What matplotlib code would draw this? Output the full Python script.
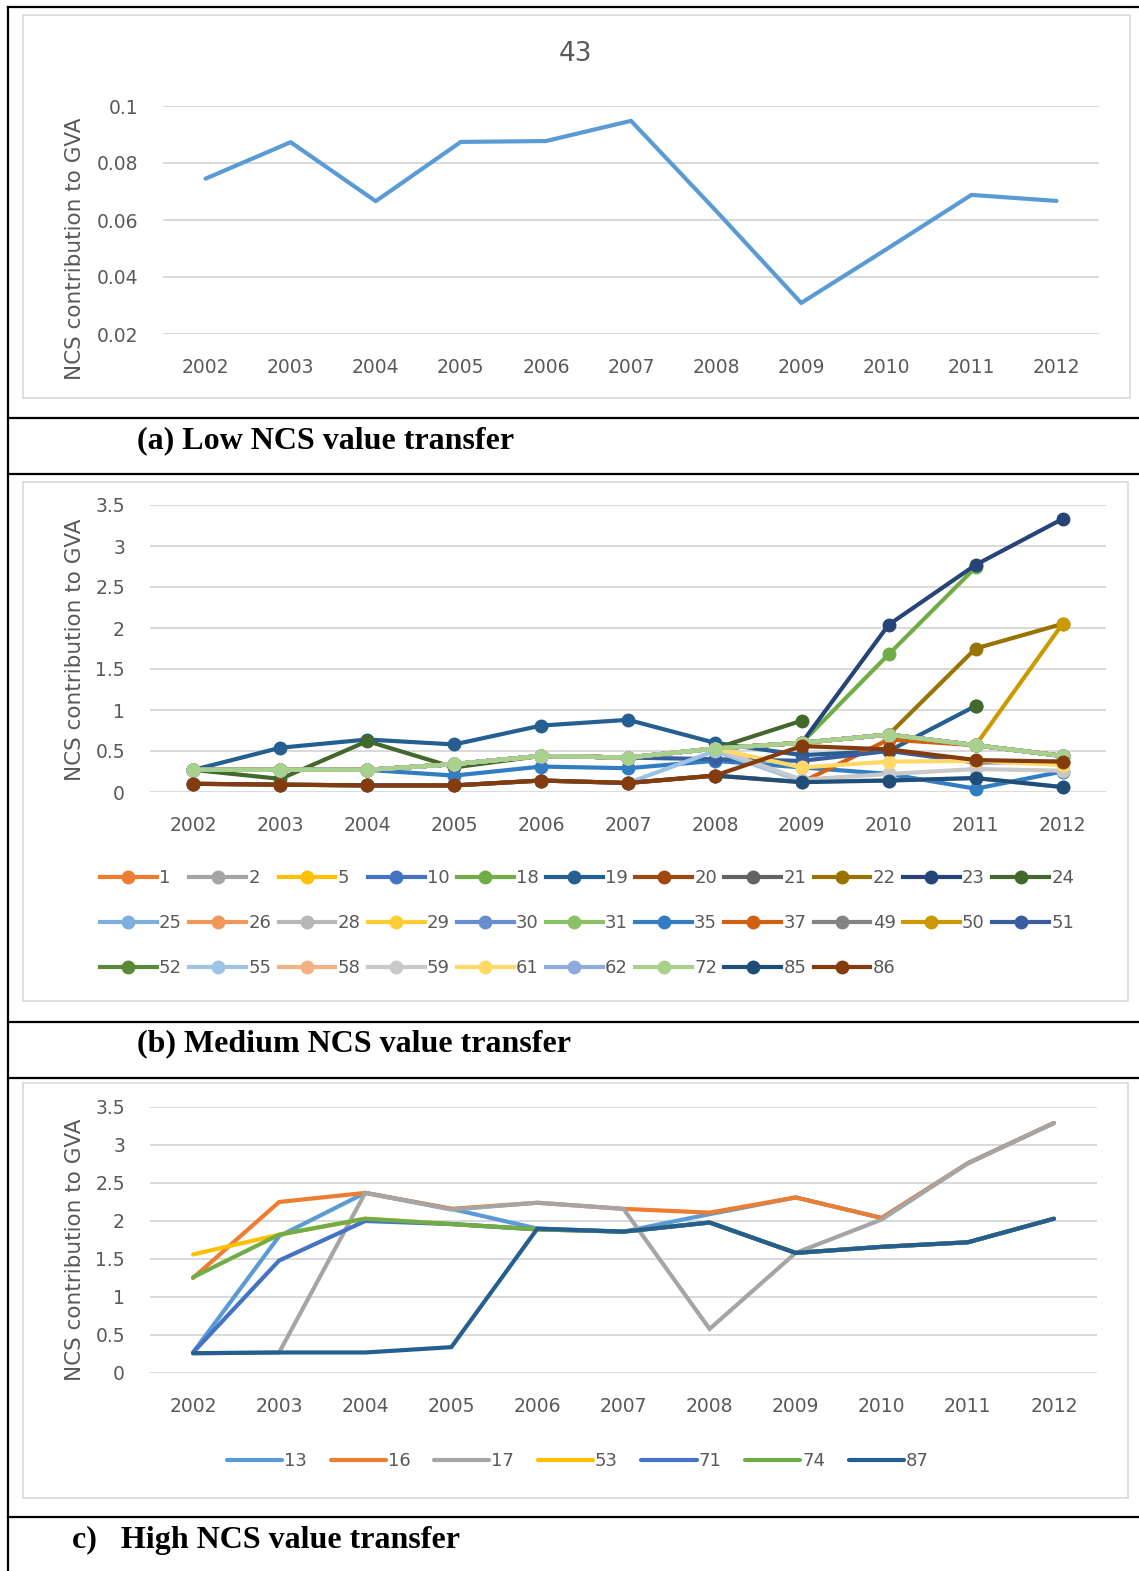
import matplotlib
matplotlib.use("Agg")
import matplotlib.pyplot as plt
import numpy as np
from matplotlib.lines import Line2D
from matplotlib.patches import Rectangle

W, H = 1139, 1571
nan = np.nan

years = [str(y) for y in range(2002, 2013)]

# (a) low NCS value transfer
low_labels = ["43"]
low_43 = [0.0745, 0.0873, 0.0666, 0.0874, 0.0877, 0.0948, 0.0632, 0.0309, 0.0497, 0.0688, 0.0667]
low_yticks = [0.02, 0.04, 0.06, 0.08, 0.1]
low_yticklabels = ["0.02", "0.04", "0.06", "0.08", "0.1"]

# (b) medium NCS value transfer
med_labels = ["1", "2", "5", "10", "18", "19", "20", "21", "22", "23", "24",
              "25", "26", "28", "29", "30", "31", "35", "37", "49", "50", "51",
              "52", "55", "58", "59", "61", "62", "72", "85", "86"]
med_colors = ["#ED7D31", "#A5A5A5", "#FFC000", "#4472C4", "#70AD47", "#255E91",
              "#9E480E", "#636363", "#997300", "#264478", "#43682B",
              "#7CAFDD", "#F1975A", "#B7B7B7", "#FFCD33", "#698ED0", "#8CC168",
              "#327DC2", "#D26012", "#848484", "#CC9A00", "#3A5DA0",
              "#5A8A39", "#9DC3E6", "#F4B183", "#C9C9C9", "#FFD966", "#8FAADC",
              "#A9D18E", "#1F4E79", "#843C0C"]

m72 = [0.27, 0.27, 0.27, 0.34, 0.44, 0.42, 0.53, 0.60, 0.70, 0.57, 0.44]
m86 = [0.10, 0.09, 0.08, 0.08, 0.14, 0.11, 0.20, 0.56, 0.52, 0.39, 0.37]
m85 = [0.10, 0.09, 0.08, 0.08, 0.14, 0.11, 0.20, 0.12, 0.14, 0.17, 0.06]
m19 = [0.27, 0.54, 0.64, 0.58, 0.81, 0.88, 0.60, 0.45, 0.50, 1.05, nan]
m24 = [0.27, 0.16, 0.62, 0.30, 0.44, 0.42, 0.53, 0.87, nan, 1.05, nan]
m23 = [0.27, 0.27, 0.27, 0.34, 0.44, 0.42, 0.53, 0.60, 2.04, 2.77, 3.33]
m18 = [0.27, 0.27, 0.27, 0.34, 0.44, 0.42, 0.53, 0.60, 1.68, 2.74, nan]
m22 = [0.27, 0.27, 0.27, 0.34, 0.44, 0.42, 0.53, 0.60, 0.70, 1.75, 2.05]
m50 = [0.27, 0.27, 0.27, 0.34, 0.44, 0.42, 0.53, 0.60, 0.70, 0.57, 2.05]
m35 = [0.27, 0.27, 0.27, 0.20, 0.31, 0.29, 0.38, 0.30, 0.22, 0.04, 0.25]
m51 = [0.27, 0.27, 0.27, 0.34, 0.44, 0.42, 0.40, 0.38, 0.50, 0.36, 0.37]
m55 = [0.10, 0.09, 0.08, 0.08, 0.14, 0.11, 0.50, 0.13, 0.14, 0.17, 0.06]
m59 = [0.27, 0.27, 0.27, 0.34, 0.44, 0.42, 0.53, 0.15, 0.22, 0.28, 0.26]
m61 = [0.27, 0.27, 0.27, 0.34, 0.44, 0.42, 0.53, 0.30, 0.37, 0.38, 0.33]
m37 = [0.10, 0.09, 0.08, 0.08, 0.14, 0.11, 0.20, 0.12, 0.64, 0.57, 0.44]
# series that stay hidden underneath "72" in the original
m_hidden = [0.27, 0.27, 0.27, 0.34, 0.44, 0.42, 0.53, 0.60, 0.70, 0.57, 0.44]

med_values = {
    "18": m18, "19": m19, "22": m22, "23": m23, "24": m24, "35": m35,
    "37": m37, "50": m50, "51": m51, "55": m55, "59": m59, "61": m61,
    "72": m72, "85": m85, "86": m86,
}
med_yticks = [0, 0.5, 1, 1.5, 2, 2.5, 3, 3.5]
med_yticklabels = ["0", "0.5", "1", "1.5", "2", "2.5", "3", "3.5"]

# (c) high NCS value transfer
high_labels = ["13", "16", "17", "53", "71", "74", "87"]
high_colors = ["#5B9BD5", "#ED7D31", "#A5A5A5", "#FFC000", "#4472C4", "#70AD47", "#255E91"]
h13 = [0.27, 1.80, 2.37, 2.16, 1.90, 1.86, 2.09, 2.31, 2.04, 2.76, 3.29]
h16 = [1.25, 2.25, 2.37, 2.16, 2.24, 2.16, 2.11, 2.31, 2.04, 2.76, 3.29]
h17 = [0.26, 0.27, 2.37, 2.15, 2.24, 2.16, 0.58, 1.58, 2.02, 2.76, 3.29]
h53 = [1.56, 1.82, 2.03, 1.96, 1.89, 1.86, 1.98, 1.58, 1.66, 1.72, 2.03]
h71 = [0.27, 1.48, 2.00, 1.96, 1.89, 1.86, 1.98, 1.58, 1.66, 1.72, 2.03]
h74 = [1.26, 1.82, 2.03, 1.96, 1.89, 1.86, 1.98, 1.58, 1.66, 1.72, 2.03]
h87 = [0.26, 0.27, 0.27, 0.34, 1.90, 1.86, 1.98, 1.58, 1.66, 1.72, 2.03]
high_values = [h13, h16, h17, h53, h71, h74, h87]

GRID = "#D9D9D9"
TXT = "#595959"


def rect(x0, y0, x1, y1):
    return [x0 / W, 1 - y1 / H, (x1 - x0) / W, (y1 - y0) / H]


def hline(fig, y, x0=8, x1=W, lw=1.6):
    fig.add_artist(Line2D([x0 / W, x1 / W], [1 - y / H, 1 - y / H],
                          transform=fig.transFigure, color="black", lw=lw))


def style_axes(ax, yticks, yticklabels, ylim):
    ax.set_xlim(-0.5, len(years) - 0.5)
    ax.set_ylim(*ylim)
    ax.set_xticks(range(len(years)))
    ax.set_xticklabels(years)
    ax.set_yticks(yticks)
    ax.set_yticklabels(yticklabels)
    for s in ax.spines.values():
        s.set_visible(False)
    ax.tick_params(length=0, labelsize=13.5, labelcolor=TXT)
    ax.tick_params(axis="x", pad=17)
    ax.tick_params(axis="y", pad=18)
    ax.grid(axis="y", color=GRID, lw=1.4)
    ax.set_axisbelow(True)


fig = plt.figure(figsize=(W / 100, H / 100), dpi=100)

# table frame
fig.add_artist(Line2D([8 / W, 8 / W], [0, 1 - 7 / H], transform=fig.transFigure,
                      color="black", lw=1.6))
for y in [7, 418, 474, 1022, 1078, 1517]:
    hline(fig, y)

# chart boxes
for (x0, y0, x1, y1) in [(23, 15, 1130, 398), (23, 482, 1128, 1001), (23, 1083, 1128, 1498)]:
    fig.add_artist(Rectangle((x0 / W, 1 - y1 / H), (x1 - x0) / W, (y1 - y0) / H,
                             transform=fig.transFigure, fill=False, ec=GRID, lw=1.2))

cap_kw = dict(ha="left", va="center", fontsize=23, fontweight="bold",
              family="Liberation Serif")
ylab_kw = dict(rotation=90, ha="center", va="center", fontsize=15.5, color=TXT)

# ---- (a)
ax1 = fig.add_axes(rect(163, 106, 1099, 334))
style_axes(ax1, low_yticks, low_yticklabels, (0.02, 0.1))
ax1.plot(range(len(years)), low_43, color="#5B9BD5", lw=3, solid_capstyle="round")
fig.text(575 / W, 1 - 54 / H, low_labels[0], ha="center", va="center",
         fontsize=19, color=TXT)
fig.text(75 / W, 1 - 249 / H, "NCS contribution to GVA", **ylab_kw)
fig.text(137 / W, 1 - 441 / H, "(a) Low NCS value transfer", **cap_kw)

# ---- (b)
ax2 = fig.add_axes(rect(150, 505, 1106, 792))
style_axes(ax2, med_yticks, med_yticklabels, (0, 3.5))
handles = []
for lab, col in zip(med_labels, med_colors):
    vals = med_values.get(lab, m_hidden)
    ln, = ax2.plot(range(len(years)), vals, color=col, lw=3, marker="o",
                   markersize=10, markeredgewidth=0, clip_on=False, label=lab)
    handles.append(ln)
# excel legend is row-major, matplotlib fills columns first
ncol = 11
order = []
for c in range(ncol):
    for r in range(3):
        i = r * ncol + c
        if i < len(handles):
            order.append(i)
fig.legend([handles[i] for i in order], [med_labels[i] for i in order],
           loc="upper left", bbox_to_anchor=(100 / W, 1 - 869 / H), ncol=ncol,
           frameon=False, fontsize=13, handlelength=3.15, handletextpad=0.12,
           columnspacing=0.4, labelspacing=1.5, borderpad=0, borderaxespad=0,
           labelcolor=TXT)
fig.text(75 / W, 1 - 650 / H, "NCS contribution to GVA", **ylab_kw)
fig.text(137 / W, 1 - 1044 / H, "(b) Medium NCS value transfer", **cap_kw)

# ---- (c)
ax3 = fig.add_axes(rect(150, 1107, 1097, 1373))
style_axes(ax3, med_yticks, med_yticklabels, (0, 3.5))
hh = []
for lab, col, vals in zip(high_labels, high_colors, high_values):
    ln, = ax3.plot(range(len(years)), vals, color=col, lw=3, label=lab,
                   solid_capstyle="round", solid_joinstyle="miter")
    hh.append(ln)
fig.legend(hh, high_labels, loc="upper center", bbox_to_anchor=(578 / W, 1 - 1452 / H),
           ncol=7, frameon=False, fontsize=13, handlelength=3.05, handletextpad=0.12,
           columnspacing=1.3, borderpad=0, borderaxespad=0, labelcolor=TXT)
fig.text(75 / W, 1 - 1250 / H, "NCS contribution to GVA", **ylab_kw)
fig.text(72 / W, 1 - 1540 / H, "c)   High NCS value transfer", **cap_kw)

fig.savefig("out.png", dpi=100)
